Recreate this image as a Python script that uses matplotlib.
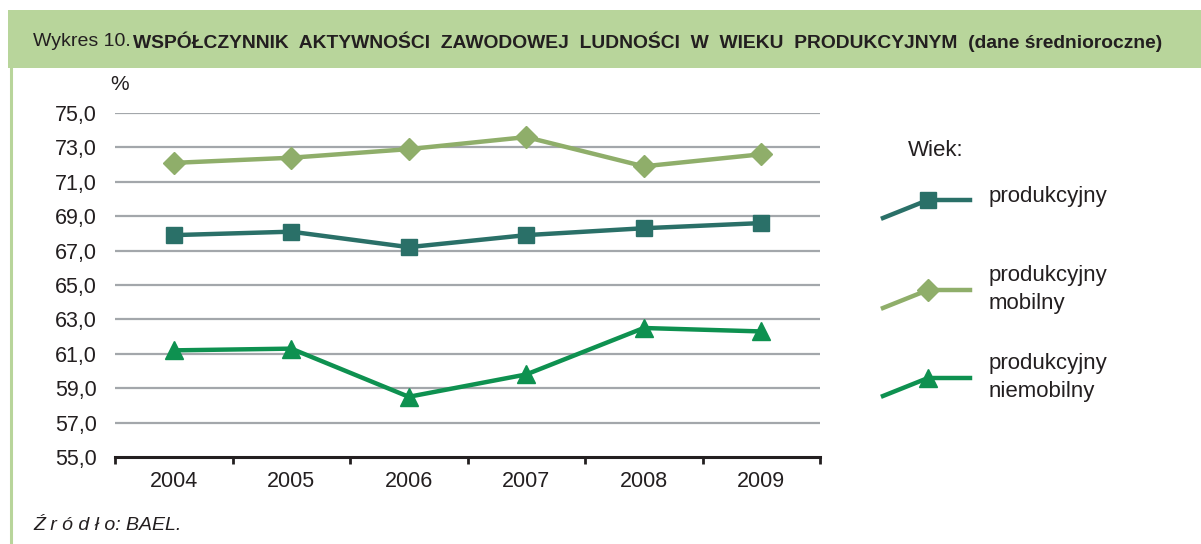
import matplotlib
matplotlib.use("Agg")
import matplotlib.pyplot as plt
from matplotlib.lines import Line2D
from matplotlib.patches import Rectangle

years = ["2004", "2005", "2006", "2007", "2008", "2009"]
produkcyjny = [67.9, 68.1, 67.2, 67.9, 68.3, 68.6]
mobilny = [72.1, 72.4, 72.9, 73.6, 71.9, 72.6]
niemobilny = [61.2, 61.3, 58.5, 59.8, 62.5, 62.3]
yticks = [55, 57, 59, 61, 63, 65, 67, 69, 71, 73, 75]

C_PROD = "#2a7068"
C_MOB = "#8fae6a"
C_NIEM = "#0e9150"
C_GRID = "#a3a7ab"
C_TEXT = "#231f20"

FONT = ["Liberation Sans Narrow", "Liberation Sans", "DejaVu Sans"]
plt.rcParams["font.family"] = FONT

W, H = 1201, 544
fig = plt.figure(figsize=(W / 100, H / 100), dpi=100)

def fx(x):
    return x / W

def fy(y):
    return 1 - y / H

# header band and frame line
fig.patches.append(Rectangle((fx(8), fy(68)), fx(W - 8), (58) / H, transform=fig.transFigure,
                             facecolor="#b8d59b", edgecolor="none", zorder=0))
fig.add_artist(Line2D([fx(11), fx(11)], [fy(68), 0], transform=fig.transFigure,
                      color="#b8d59b", lw=2.2))

t1 = fig.text(fx(33), fy(42), "Wykres 10.", fontsize=14, color=C_TEXT, va="center", ha="left")
fig.canvas.draw()
bb = t1.get_window_extent()
fig.text(bb.x1 / W + fx(2), fy(42),
         "WSPÓŁCZYNNIK  AKTYWNOŚCI  ZAWODOWEJ  LUDNOŚCI  W  WIEKU  PRODUKCYJNYM  (dane średnioroczne)",
         fontsize=13.9, fontweight="bold", color=C_TEXT, va="center", ha="left")

ax = fig.add_axes([fx(115), fy(457), fx(820) - fx(115), (457 - 113) / H])
x = list(range(len(years)))
ax.plot(x, mobilny, color=C_MOB, lw=3.2, marker="D", markersize=11, zorder=3)
ax.plot(x, produkcyjny, color=C_PROD, lw=3.2, marker="s", markersize=11, zorder=3)
ax.plot(x, niemobilny, color=C_NIEM, lw=3.2, marker="^", markersize=13, zorder=3)

ax.set_xlim(-0.5, len(years) - 0.5)
ax.set_ylim(55, 75)
ax.set_yticks(yticks)
ax.set_yticklabels([f"{v:.1f}".replace(".", ",") for v in yticks], fontsize=15.5, color=C_TEXT)
ax.set_xticks(x)
ax.set_xticklabels(years, fontsize=15.5, color=C_TEXT)
ax.set_xticks([i - 0.5 for i in range(len(years) + 1)], minor=True)
ax.tick_params(axis="x", which="major", length=0, pad=10)
ax.tick_params(axis="x", which="minor", length=5, width=2, color=C_TEXT, direction="out")
ax.tick_params(axis="y", length=0, pad=13)
for v in yticks[1:]:
    ax.axhline(v, color=C_GRID, lw=1.6, zorder=1)
for s in ["left", "right", "top"]:
    ax.spines[s].set_visible(False)
ax.spines["bottom"].set_color(C_TEXT)
ax.spines["bottom"].set_linewidth(2.2)
ax.spines["bottom"].set_zorder(4)

fig.text(fx(110), fy(85), "%", fontsize=15, color=C_TEXT, va="center", ha="left")

# legend
fig.text(fx(908), fy(150), "Wiek:", fontsize=16, color=C_TEXT, va="center", ha="left")
leg = [
    (C_PROD, "s", 11, 218, 200, ["produkcyjny"]),
    (C_MOB, "D", 11, 308, 290, ["produkcyjny", "mobilny"]),
    (C_NIEM, "^", 13, 396, 378, ["produkcyjny", "niemobilny"]),
]
for col, mk, ms, y0, y1, lines in leg:
    fig.add_artist(Line2D([fx(883), fx(928), fx(970)], [fy(y0), fy(y1), fy(y1)],
                          transform=fig.transFigure, color=col, lw=3.2))
    fig.add_artist(Line2D([fx(928)], [fy(y1)], transform=fig.transFigure, color=col,
                          marker=mk, markersize=ms, lw=0))
    if len(lines) == 1:
        fig.text(fx(989), fy(y1 - 3), lines[0], fontsize=16, color=C_TEXT, va="center", ha="left")
    else:
        fig.text(fx(989), fy(y1 - 15), lines[0], fontsize=16, color=C_TEXT, va="center", ha="left")
        fig.text(fx(989), fy(y1 + 13), lines[1], fontsize=16, color=C_TEXT, va="center", ha="left")

fig.text(fx(33), fy(525), "Ź r ó d ł o: BAEL.", fontsize=14, style="italic", color=C_TEXT,
         va="center", ha="left")

fig.savefig("out.png", dpi=100, facecolor="white")
